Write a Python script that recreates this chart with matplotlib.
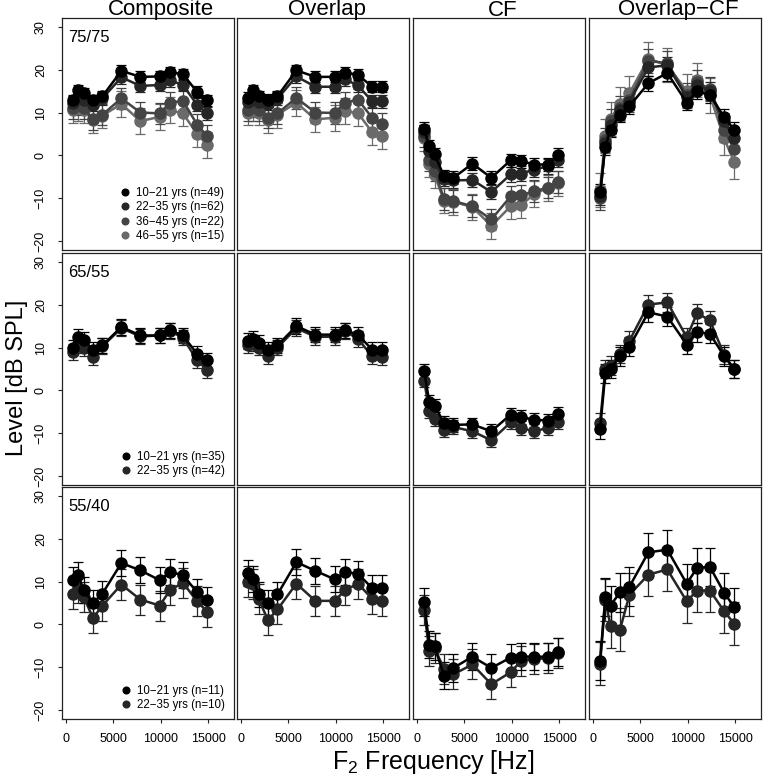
import numpy as np
import matplotlib
matplotlib.use('Agg')
import matplotlib.pyplot as plt
from matplotlib.lines import Line2D

plt.rcParams['font.family'] = ['Liberation Sans', 'DejaVu Sans']
plt.rcParams['mathtext.fontset'] = 'custom'
plt.rcParams['mathtext.rm'] = 'Liberation Sans'
plt.rcParams['mathtext.it'] = 'Liberation Sans:italic'

# F2 frequencies (Hz)
freq = [750, 1300, 1850, 2850, 3850, 5850, 7850, 9900, 11000, 12350, 13850, 14900]

# 75/75 -- four age groups
comp_75 = [[12.8, 15.2, 14.5, 12.8, 13.8, 19.7, 18.3, 18.4, 19.4, 18.9, 14.8, 12.8],
           [12.3, 13.5, 12.8, 11.8, 13.3, 18.2, 16.2, 16.4, 17.5, 16.4, 11.8, 9.8],
           [11.0, 12.0, 11.0, 8.5, 9.5, 13.3, 10.0, 9.8, 12.3, 12.7, 7.2, 4.5],
           [10.5, 11.0, 10.5, 8.2, 9.3, 12.0, 8.0, 9.0, 10.5, 9.8, 5.0, 2.5]]
over_75 = [[13.4, 15.2, 13.8, 13.0, 13.8, 19.8, 18.3, 18.3, 19.3, 18.8, 16.0, 16.0],
           [12.5, 13.5, 12.5, 12.0, 13.2, 18.4, 16.0, 16.0, 17.7, 16.3, 12.6, 12.6],
           [10.5, 11.5, 10.5, 8.8, 9.8, 13.4, 10.0, 9.9, 12.3, 13.0, 8.8, 7.4],
           [10.0, 11.0, 10.0, 8.3, 9.5, 12.3, 8.4, 8.8, 10.3, 9.9, 5.4, 4.5]]
cf_75 = [[6.2, 2.2, 0.3, -4.8, -5.2, -1.9, -5.2, -1.1, -1.3, -2.1, -2.1, 0.2],
         [5.5, 1.0, -1.5, -5.5, -5.8, -5.7, -8.5, -4.4, -4.2, -3.3, -2.5, -1.0],
         [4.5, -1.0, -3.5, -10.1, -10.6, -11.8, -14.9, -9.5, -9.3, -8.3, -7.5, -6.2],
         [4.0, -2.0, -4.5, -10.5, -10.8, -12.0, -16.4, -11.8, -11.6, -9.0, -7.5, -6.5]]
ocf_75 = [[-8.5, 2.0, 6.0, 9.5, 11.5, 16.8, 19.2, 12.3, 15.0, 14.0, 9.0, 6.0],
          [-9.5, 3.0, 7.0, 10.5, 12.5, 20.5, 21.0, 13.5, 16.5, 15.0, 8.0, 4.0],
          [-10.0, 3.5, 8.0, 11.0, 13.0, 22.0, 21.5, 14.0, 17.0, 15.5, 6.0, 1.5],
          [-8.0, 4.5, 8.5, 12.0, 14.5, 22.5, 21.0, 15.0, 17.5, 14.0, 4.0, -1.5]]

# 65/55 -- two age groups
comp_65 = [[10.0, 12.5, 11.8, 9.5, 10.5, 14.8, 12.8, 12.8, 14.0, 12.8, 8.5, 7.0],
           [9.0, 10.5, 9.8, 7.8, 10.3, 14.5, 12.6, 12.8, 13.8, 12.3, 7.0, 4.8]]
over_65 = [[11.5, 12.0, 11.0, 9.5, 10.5, 15.0, 13.0, 13.0, 14.0, 13.0, 9.5, 9.5],
           [10.5, 11.0, 10.0, 8.0, 10.0, 14.5, 12.5, 12.5, 13.8, 12.0, 8.0, 7.8]]
cf_65 = [[4.6, -2.7, -3.5, -7.6, -8.0, -7.9, -9.5, -5.6, -6.2, -6.8, -7.0, -5.4],
         [2.3, -4.7, -6.6, -9.3, -8.5, -9.5, -11.6, -7.4, -8.7, -9.5, -8.7, -7.4]]
ocf_65 = [[-9.0, 4.0, 5.0, 8.0, 10.2, 18.2, 17.2, 10.7, 13.6, 13.2, 8.0, 5.0],
          [-7.5, 5.0, 5.8, 8.5, 11.6, 20.0, 20.5, 12.4, 18.0, 16.3, 8.3, 5.0]]

# 55/40 -- two age groups
comp_55 = [[10.3, 11.5, 8.0, 5.0, 7.2, 14.3, 12.6, 10.3, 12.2, 11.5, 7.5, 5.8],
           [7.0, 8.5, 6.5, 1.5, 4.4, 9.3, 5.8, 4.4, 8.0, 9.7, 5.4, 3.0]]
over_55 = [[12.0, 10.5, 7.0, 5.0, 7.0, 14.5, 12.5, 10.5, 12.2, 11.8, 8.5, 8.5],
           [10.0, 9.5, 6.0, 1.0, 3.5, 9.5, 5.5, 5.5, 8.0, 9.5, 6.0, 5.5]]
cf_55 = [[5.2, -4.7, -5.1, -11.9, -10.1, -7.5, -10.1, -7.7, -7.5, -7.5, -7.5, -6.4],
         [3.3, -6.2, -5.5, -10.3, -11.6, -9.3, -13.9, -11.1, -8.5, -8.1, -7.8, -6.6]]
ocf_55 = [[-8.4, 6.4, 4.4, 7.5, 8.8, 16.8, 17.4, 9.5, 13.2, 13.4, 7.4, 4.1],
          [-9.1, 5.7, -0.4, -1.2, 6.9, 11.6, 12.8, 5.4, 7.9, 7.9, 3.1, 0.2]]

# standard errors per group
err_comp_75 = [1.3, 1.5, 2.5, 3.0]
err_over_75 = [1.3, 1.5, 2.5, 3.0]
err_cf_75 = [1.5, 1.7, 2.5, 3.0]
err_ocf_75 = [1.8, 2.0, 2.8, 4.0]
err_comp_65 = [1.8, 1.8]
err_over_65 = [1.8, 1.8]
err_cf_65 = [1.6, 1.6]
err_ocf_65 = [2.2, 2.2]
err_comp_55 = [3.0, 3.5]
err_over_55 = [3.0, 3.5]
err_cf_55 = [3.2, 3.5]
err_ocf_55 = [4.5, 5.0]

groups_75 = ['10\u221221 yrs (n=49)', '22\u221235 yrs (n=62)',
             '36\u221245 yrs (n=22)', '46\u221255 yrs (n=15)']
groups_65 = ['10\u221221 yrs (n=35)', '22\u221235 yrs (n=42)']
groups_55 = ['10\u221221 yrs (n=11)', '22\u221235 yrs (n=10)']

titles = ['Composite', 'Overlap', 'CF', 'Overlap\u2212CF']
levels = ['75/75', '65/55', '55/40']

panels = [[comp_75, over_75, cf_75, ocf_75],
          [comp_65, over_65, cf_65, ocf_65],
          [comp_55, over_55, cf_55, ocf_55]]
errs = [[err_comp_75, err_over_75, err_cf_75, err_ocf_75],
        [err_comp_65, err_over_65, err_cf_65, err_ocf_65],
        [err_comp_55, err_over_55, err_cf_55, err_ocf_55]]
labels = [groups_75, groups_65, groups_55]

colors = ['#000000', '#262626', '#444444', '#6a6a6a']

W, H = 763.0, 775.0
col_left = [62, 237, 413, 589]
row_top = [18, 253, 487]
pw, ph = 172, 232
title_x = [161, 327, 503, 678]

fig = plt.figure(figsize=(7.63, 7.75), dpi=100)

for r in range(3):
    for c in range(4):
        ax = fig.add_axes([col_left[c] / W, 1 - (row_top[r] + ph) / H, pw / W, ph / H])
        data = panels[r][c]
        err = errs[r][c]
        for g in reversed(range(len(data))):
            ax.errorbar(freq, data[g], yerr=err[g], color=colors[g], lw=1.8,
                        marker='o', ms=8, capsize=3.8, elinewidth=0.9, capthick=0.9)
        ax.set_xlim(-423, 17746)
        ax.set_ylim(-22, 32)
        for s in ax.spines.values():
            s.set_linewidth(0.9)
            s.set_color('#222222')
        ax.set_xticks([0, 5000, 10000, 15000])
        ax.set_yticks([-20, -10, 0, 10, 20, 30])
        ax.tick_params(length=2.9, width=0.8, labelsize=9, color='#222222')
        ax.tick_params(axis='y', pad=8)
        ax.tick_params(axis='x', pad=7)
        if c == 0:
            for lbl in ax.get_yticklabels():
                lbl.set_rotation(90)
                lbl.set_va('center')
            ax.text(6 / pw, 1 - 24 / ph, levels[r], transform=ax.transAxes,
                    fontsize=12, va='baseline', ha='left')
            handles = [Line2D([], [], color=colors[g], marker='o', ls='none', ms=4.8)
                       for g in range(len(labels[r]))]
            ax.legend(handles, labels[r], loc='lower right', bbox_to_anchor=(0.945, 0.035),
                      frameon=False, fontsize=8.3, labelspacing=0.2, handlelength=0.8,
                      handletextpad=0.55, borderpad=0, borderaxespad=0)
        else:
            ax.tick_params(axis='y', left=False, labelleft=False)
        if r != 2:
            ax.tick_params(axis='x', bottom=False, labelbottom=False)
        if r == 0:
            fig.text(title_x[c] / W, 1 - 15.5 / H, titles[c], ha='center', va='baseline',
                     fontsize=16)

fig.text(17 / W, 1 - 378 / H, 'Level [dB SPL]', rotation=90, ha='center', va='center',
         fontsize=17)
fig.text(433 / W, 1 - 762 / H, r'F$_2$ Frequency [Hz]', ha='center', va='center',
         fontsize=18)

plt.savefig('out.png', dpi=100)
